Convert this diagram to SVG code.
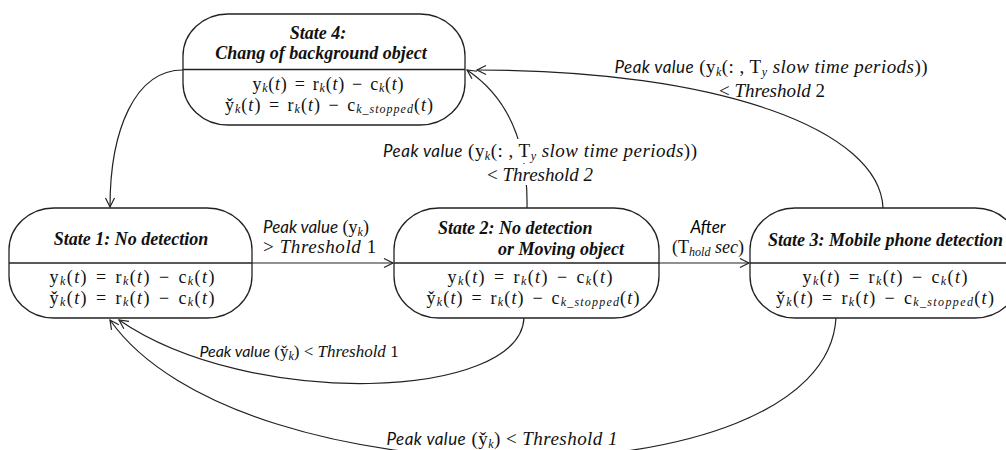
<svg xmlns="http://www.w3.org/2000/svg" width="1006" height="450" viewBox="0 0 1006 450">
<style>
.box{fill:#fff;stroke:#222;stroke-width:1.3}
.div{stroke:#222;stroke-width:1.3}
.con{fill:none;stroke:#222;stroke-width:1.2;marker-end:url(#arr)}
.ttl{font-family:"Liberation Serif",serif;font-weight:bold;font-style:italic;font-size:18px;fill:#111}
.m{font-family:"Liberation Serif",serif;font-size:18px;fill:#111;word-spacing:2px}
.i{font-style:italic}
.s{font-style:italic;font-size:12px}
.lbl{font-family:"Liberation Serif",serif;font-size:18px;fill:#111}
.big{font-size:19px}
.sm{font-size:17px}
.pv{font-family:Lato,"Liberation Sans",sans-serif;font-style:italic;font-size:17px}
.pvs{font-family:Lato,"Liberation Sans",sans-serif;font-style:italic;font-size:16px}
.th{font-style:italic}
.bg{fill:#fff}
</style>
<defs>
<marker id="arr" markerUnits="userSpaceOnUse" markerWidth="12" markerHeight="12" refX="10" refY="6" orient="auto">
<path d="M1,1.5 L10,6 L1,10.5" fill="none" stroke="#222" stroke-width="1.2"/>
</marker>
</defs>

<g id="connectors">
<path class="con" d="M252,263 L393,263"/>
<path class="con" d="M659,263 L749,263"/>
<path class="con" d="M183,70 C135,70 110,130 110,207"/>
<path class="con" d="M527,208 C528,150 512,100 467,70"/>
<path class="con" d="M883,208 C880,130 720,70 477,70"/>
<path class="con" d="M524,318 C520,400 250,410 119,320"/>
<path class="con" d="M836,318 C825,505 240,505 110,320"/>
</g>

<g id="labels">
<text class="lbl" x="263" y="233"><tspan class="pv">Peak value</tspan> (y<tspan class="s" dy="3">k</tspan><tspan dy="-3">)</tspan></text>
<text class="lbl big" x="263" y="253" letter-spacing="0.6">&gt; <tspan class="th">Threshold</tspan> 1</text>
<text class="pv" x="708" y="233" text-anchor="middle">After</text>
<text class="lbl" x="708" y="253" text-anchor="middle">(T<tspan class="s" dy="3">hold</tspan><tspan class="th" dy="-3"> sec</tspan>)</text>
<rect class="bg" x="381" y="139" width="318" height="24"/>
<rect class="bg" x="486" y="164" width="108" height="21"/>
<text class="lbl big" x="540" y="157" text-anchor="middle" textLength="314"><tspan class="pv">Peak value</tspan> (y<tspan class="s" dy="3">k</tspan><tspan dy="-3">(: , T</tspan><tspan class="s" dy="3">y</tspan><tspan class="th" dy="-3"> slow time periods</tspan>))</text>
<text class="lbl big" x="540" y="181" text-anchor="middle">&lt; <tspan class="th">Threshold 2</tspan></text>
<text class="lbl big" x="771" y="73" text-anchor="middle" textLength="313"><tspan class="pv">Peak value</tspan> (y<tspan class="s" dy="3">k</tspan><tspan dy="-3">(: , T</tspan><tspan class="s" dy="3">y</tspan><tspan class="th" dy="-3"> slow time periods</tspan>))</text>
<text class="lbl big" x="772" y="97" text-anchor="middle">&lt; <tspan class="th">Threshold</tspan> 2</text>
<text class="lbl sm" x="299" y="357" text-anchor="middle"><tspan class="pvs">Peak value</tspan> (y̌<tspan class="s" dy="3">k</tspan><tspan dy="-3">) &lt; </tspan><tspan class="th">Threshold</tspan> 1</text>
<text class="lbl big" x="502" y="445" text-anchor="middle" textLength="231"><tspan class="pv">Peak value</tspan> (y̌<tspan class="s" dy="3">k</tspan><tspan dy="-3">) &lt; </tspan><tspan class="th">Threshold 1</tspan></text>
</g>

<g id="state4">
<rect class="box" x="183" y="14" width="282" height="111" rx="45" ry="42"/>
<line class="div" x1="183" y1="69.5" x2="465" y2="69.5"/>
<text class="ttl" x="318" y="39" text-anchor="middle">State 4:</text>
<text class="ttl" x="321" y="59" text-anchor="middle">Chang of background object</text>
<text class="m" x="328" y="90" text-anchor="middle" textLength="151">y<tspan class="s" dy="2">k</tspan><tspan dy="-2">(</tspan><tspan class="i">t</tspan>) = r<tspan class="s" dy="2">k</tspan><tspan dy="-2">(</tspan><tspan class="i">t</tspan>) − c<tspan class="s" dy="2">k</tspan><tspan dy="-2">(</tspan><tspan class="i">t</tspan>)</text>
<text class="m" x="329" y="111" text-anchor="middle" textLength="208">y̌<tspan class="s" dy="2">k</tspan><tspan dy="-2">(</tspan><tspan class="i">t</tspan>) = r<tspan class="s" dy="2">k</tspan><tspan dy="-2">(</tspan><tspan class="i">t</tspan>) − c<tspan class="s" dy="2">k_stopped</tspan><tspan dy="-2">(</tspan><tspan class="i">t</tspan>)</text>
</g>

<g id="state1">
<rect class="box" x="9" y="208" width="243" height="110" rx="45" ry="42"/>
<line class="div" x1="9" y1="263" x2="252" y2="263"/>
<text class="ttl" x="131" y="245" text-anchor="middle">State 1: No detection</text>
<text class="m" x="132" y="283" text-anchor="middle" textLength="165">y<tspan class="s" dy="2">k</tspan><tspan dy="-2">(</tspan><tspan class="i">t</tspan>) = r<tspan class="s" dy="2">k</tspan><tspan dy="-2">(</tspan><tspan class="i">t</tspan>) − c<tspan class="s" dy="2">k</tspan><tspan dy="-2">(</tspan><tspan class="i">t</tspan>)</text>
<text class="m" x="132" y="304" text-anchor="middle" textLength="165">y̌<tspan class="s" dy="2">k</tspan><tspan dy="-2">(</tspan><tspan class="i">t</tspan>) = r<tspan class="s" dy="2">k</tspan><tspan dy="-2">(</tspan><tspan class="i">t</tspan>) − c<tspan class="s" dy="2">k</tspan><tspan dy="-2">(</tspan><tspan class="i">t</tspan>)</text>
</g>

<g id="state2">
<rect class="box" x="394" y="208" width="265" height="110" rx="45" ry="42"/>
<line class="div" x1="394" y1="263" x2="659" y2="263"/>
<text class="ttl" x="438" y="234">State 2: No detection</text>
<text class="ttl" x="498" y="255">or Moving object</text>
<text class="m" x="530" y="283" text-anchor="middle" textLength="165">y<tspan class="s" dy="2">k</tspan><tspan dy="-2">(</tspan><tspan class="i">t</tspan>) = r<tspan class="s" dy="2">k</tspan><tspan dy="-2">(</tspan><tspan class="i">t</tspan>) − c<tspan class="s" dy="2">k</tspan><tspan dy="-2">(</tspan><tspan class="i">t</tspan>)</text>
<text class="m" x="533" y="304" text-anchor="middle" textLength="213">y̌<tspan class="s" dy="2">k</tspan><tspan dy="-2">(</tspan><tspan class="i">t</tspan>) = r<tspan class="s" dy="2">k</tspan><tspan dy="-2">(</tspan><tspan class="i">t</tspan>) − c<tspan class="s" dy="2">k_stopped</tspan><tspan dy="-2">(</tspan><tspan class="i">t</tspan>)</text>
</g>

<g id="state3">
<rect class="box" x="750" y="208" width="270" height="110" rx="45" ry="42"/>
<line class="div" x1="750" y1="263" x2="1020" y2="263"/>
<text class="ttl" x="768" y="246">State 3: Mobile phone detection</text>
<text class="m" x="885" y="283" text-anchor="middle" textLength="165">y<tspan class="s" dy="2">k</tspan><tspan dy="-2">(</tspan><tspan class="i">t</tspan>) = r<tspan class="s" dy="2">k</tspan><tspan dy="-2">(</tspan><tspan class="i">t</tspan>) − c<tspan class="s" dy="2">k</tspan><tspan dy="-2">(</tspan><tspan class="i">t</tspan>)</text>
<text class="m" x="885" y="304" text-anchor="middle" textLength="218">y̌<tspan class="s" dy="2">k</tspan><tspan dy="-2">(</tspan><tspan class="i">t</tspan>) = r<tspan class="s" dy="2">k</tspan><tspan dy="-2">(</tspan><tspan class="i">t</tspan>) − c<tspan class="s" dy="2">k_stopped</tspan><tspan dy="-2">(</tspan><tspan class="i">t</tspan>)</text>
</g>
</svg>
